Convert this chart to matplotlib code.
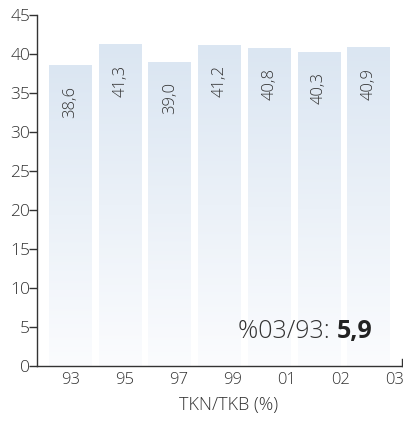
import numpy as np
import matplotlib
matplotlib.use("Agg")
import matplotlib.pyplot as plt
from matplotlib.colors import LinearSegmentedColormap

plt.rcParams['font.family'] = ['Open Sans', 'DejaVu Sans']

years = ["93", "95", "97", "99", "01", "02", "03"]
values = [38.6, 41.3, 39.0, 41.2, 40.8, 40.3, 40.9]
value_labels = ["38,6", "41,3", "39,0", "41,2", "40,8", "40,3", "40,9"]
y_ticks = [0, 5, 10, 15, 20, 25, 30, 35, 40, 45]
xlabel = "TKN/TKB (%)"
note_prefix = "%03/93: "
note_value = "5,9"

fig = plt.figure(figsize=(4.03, 4.21), dpi=100)
ax = fig.add_axes([37/403, 1 - 366/421, (402 - 37)/403, (366 - 15)/421])

text_col = "#333333"
cmap = LinearSegmentedColormap.from_list("g", ["#fbfcfe", "#dbe6f2"])
grad = np.linspace(0, 1, 256).reshape(-1, 1)

x = np.arange(len(values))
bars = ax.bar(x, values, width=0.865, color="none", edgecolor="none", zorder=2)
for b, lab in zip(bars, value_labels):
    x0, w, h = b.get_x(), b.get_width(), b.get_height()
    im = ax.imshow(grad, extent=[x0, x0 + w, 0, h], origin="lower",
                   cmap=cmap, aspect="auto", zorder=1, interpolation="bicubic")
    im.set_clip_path(b)
    ax.text(x0 + w/2, h - 4.7, lab, rotation=90, ha="center", va="center",
            fontsize=12, fontweight="light", color=text_col, zorder=3)

ax.set_xlim(-0.674, 6.67)
ax.set_ylim(0, 45)
ax.set_yticks(y_ticks)
ax.set_yticklabels([str(t) for t in y_ticks], fontweight="light")
ax.set_xticks(np.linspace(0, 6.53, len(years)))
ax.set_xticklabels(years, fontweight="light")

for s in ["top", "right"]:
    ax.spines[s].set_visible(False)
for s in ["left", "bottom"]:
    ax.spines[s].set_color(text_col)
    ax.spines[s].set_linewidth(1.0)

ax.tick_params(axis="y", direction="out", length=6, width=1, color=text_col,
               labelsize=12.5, labelcolor=text_col, pad=-1)
ax.tick_params(axis="x", length=0, labelsize=12, labelcolor=text_col, pad=4)

# right end tick on x-axis
ax.plot([1, 1], [0, 0.02], transform=ax.transAxes, color=text_col, lw=1, clip_on=False)

ax.set_xlabel(xlabel, fontsize=13, fontweight="light", color=text_col)
ax.xaxis.set_label_coords(0.525, -0.085)

t1 = ax.text(0.552, 0.097, note_prefix, transform=ax.transAxes, fontsize=18,
             fontweight="light", color=text_col, ha="left", va="center", zorder=4)
fig.canvas.draw()
bb = t1.get_window_extent()
xr = ax.transAxes.inverted().transform((bb.x1, bb.y0))[0]
ax.text(xr, 0.097, note_value, transform=ax.transAxes, fontsize=18,
        fontweight="bold", color="#222222", ha="left", va="center", zorder=4)

fig.savefig("out.png", dpi=100)
